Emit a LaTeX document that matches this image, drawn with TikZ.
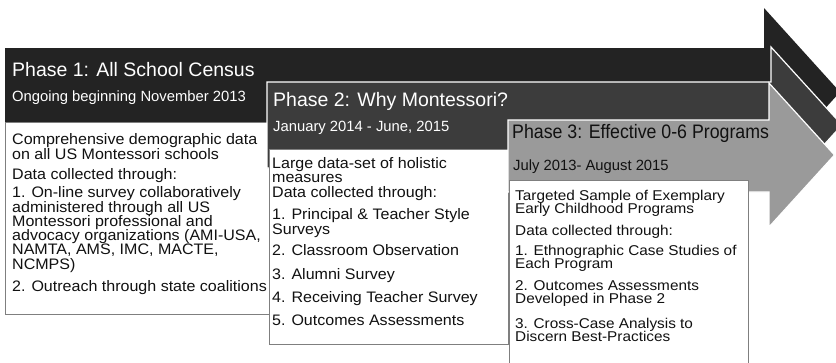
\documentclass[tikz,border=0pt]{standalone}
\usepackage{fontspec}
\setmainfont{Liberation Sans}
\newfontfamily\widesans{Liberation Sans}[FakeStretch=1.08]
\newfontfamily\bodysans{Liberation Sans}[FakeStretch=1.055]
\definecolor{aone}{HTML}{232323}
\definecolor{atwo}{HTML}{3C3C3C}
\definecolor{athree}{HTML}{9A9A9A}
\definecolor{boxline}{HTML}{7F7F7F}
\definecolor{txt}{HTML}{111111}
\tikzset{
  arrowshape/.style={draw=white, line width=1.2pt, line join=miter},
  textbox/.style={draw=boxline, line width=1.3pt, fill=white, anchor=north west, inner sep=0pt},
  para/.style={anchor=north west, inner sep=0pt, align=left, text=txt, font=\bodysans\fontsize{15.2}{14.3}\selectfont},
  parasmall/.style={anchor=north west, inner sep=0pt, align=left, text=txt, font=\widesans\fontsize{14.2}{13.4}\selectfont},
  title/.style={anchor=base west, inner sep=0pt, font=\fontsize{19.5}{22}\selectfont},
  subtitle/.style={anchor=base west, inner sep=0pt, font=\fontsize{14.8}{17}\selectfont}
}
\begin{document}
\lineskiplimit=-20pt\relax
\lineskip=0pt\relax
\begin{tikzpicture}[x=1pt,y=-1pt]
\useasboundingbox (0,0) rectangle (836,362);
\clip (0,0) rectangle (836,362);
% arrow 1
\fill[aone] (5,48) -- (764,48) -- (764,8) -- (840,92) -- (764,176) -- (764,136) -- (5,136) -- cycle;
\node[title, text=white] (t1) at (12,76) {Phase 1: All School Census};
\node[subtitle, text=white] (s1) at (12,101) {Ongoing beginning November 2013};
% box 1
\node[textbox, minimum width=264pt, minimum height=192pt] (box1) at (5,122) {};
\node[para] (b1p1) at (12,133.5) {Comprehensive demographic data\\on all US Montessori schools};
\node[para] (b1p2) at (12,168) {Data collected through:};
\node[para] (b1p3) at (12,186.5) {1. On-line survey collaboratively\\administered through all US\\Montessori professional and\\advocacy organizations (AMI-USA,\\NAMTA, AMS, IMC, MACTE,\\NCMPS)};
\node[para] (b1p4) at (12,280) {2. Outreach through state coalitions};
% arrow 2
\filldraw[arrowshape, fill=atwo] (267,82) -- (771,82) -- (771,47) -- (842,125) -- (771,203) -- (771,168) -- (267,168) -- cycle;
\node[title, text=white] (t2) at (273,106) {Phase 2: Why Montessori?};
\node[subtitle, text=white] (s2) at (273,131) {January 2014 - June, 2015};
% box 2
\node[textbox, minimum width=239pt, minimum height=195pt] (box2) at (269,149) {};
\node[para] (b2p1) at (272,157) {Large data-set of holistic\\measures};
\node[para] (b2p2) at (272,186.5) {Data collected through:};
\node[para] (b2p3) at (272,208.5) {1. Principal \& Teacher Style\\Surveys};
\node[para] (b2p4) at (272,244.5) {2. Classroom Observation};
\node[para] (b2p5) at (272,268) {3. Alumni Survey};
\node[para] (b2p6) at (272,291.5) {4. Receiving Teacher Survey};
\node[para] (b2p7) at (272,314.5) {5. Outcomes Assessments};
% arrow 3
\filldraw[arrowshape, fill=athree] (508,120) -- (769,120) -- (769,83) -- (834.5,155) -- (769,227) -- (769,192) -- (508,192) -- cycle;
\node[title, text=txt] (t3) at (512,138.3) {\scalebox{0.91}[1]{Phase 3: Effective 0-6 Programs}};
\node[subtitle, text=txt] (s3) at (513,170) {July 2013- August 2015};
% box 3
\node[textbox, minimum width=239pt, minimum height=200pt] (box3) at (509,180) {};
\node[parasmall] (b3p1) at (515,190) {Targeted Sample of Exemplary\\Early Childhood Programs};
\node[parasmall] (b3p2) at (515,224.8) {Data collected through:};
\node[parasmall] (b3p3) at (515,245) {1. Ethnographic Case Studies of\\Each Program};
\node[parasmall] (b3p4) at (515,280) {2. Outcomes Assessments\\Developed in Phase 2};
\node[parasmall] (b3p5) at (515,318) {3. Cross-Case Analysis to\\Discern Best-Practices};
\end{tikzpicture}
\end{document}
